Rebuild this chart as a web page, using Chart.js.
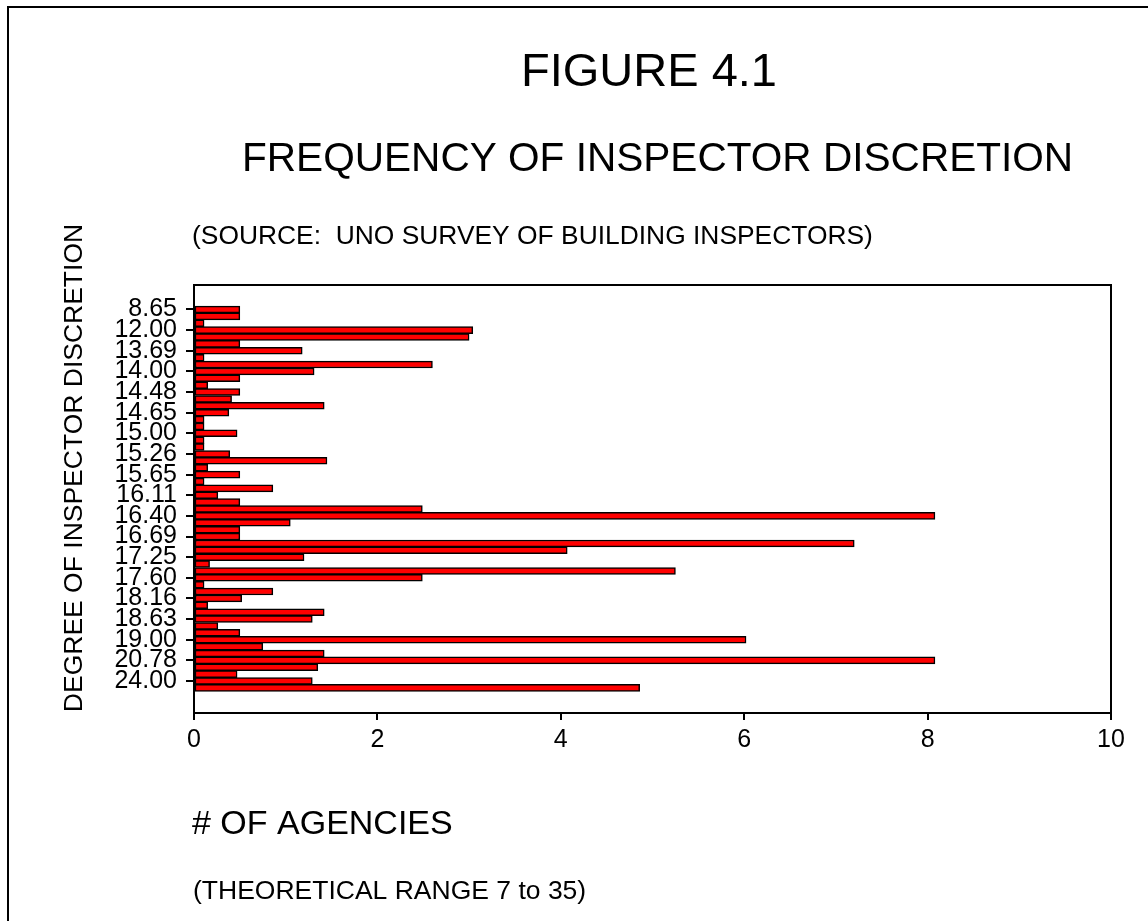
<!DOCTYPE html>
<html>
<head>
<meta charset="utf-8">
<script src="https://cdn.jsdelivr.net/npm/chart.js@4.4.1/dist/chart.umd.min.js"></script>
<style>
html,body{margin:0;padding:0;background:#fff;overflow:hidden}
#wrap{position:relative;width:1148px;height:921px}
canvas{display:block}
</style>
</head>
<body>
<div id="wrap"><canvas id="c" width="1148" height="921"></canvas></div>
<script>
// Degree of inspector discretion (category, top to bottom)
const categories = [
  "8.65","10.00","11.00","12.00","12.67","13.00","13.69","13.82","13.88","14.00",
  "14.13","14.33","14.48","14.50","14.60","14.65","14.78","14.88","15.00","15.06",
  "15.13","15.26","15.40","15.52","15.65","15.77","16.00","16.11","16.20","16.30",
  "16.40","16.50","16.60","16.69","16.80","17.00","17.25","17.33","17.40","17.60",
  "17.73","18.00","18.16","18.25","18.40","18.63","18.75","18.88","19.00","19.50",
  "20.00","20.78","21.00","22.00","24.00","25.00"
];
// # of agencies per category
const agencies = [
  0.50,0.50,0.11,3.04,3.00,0.50,1.18,0.11,2.60,1.31,
  0.50,0.15,0.50,0.41,1.42,0.38,0.11,0.11,0.47,0.11,
  0.11,0.39,1.45,0.15,0.50,0.11,0.86,0.26,0.50,2.49,
  8.08,1.05,0.50,0.50,7.20,4.07,1.20,0.17,5.25,2.49,
  0.11,0.86,0.52,0.15,1.42,1.29,0.26,0.50,6.02,0.75,
  1.42,8.08,1.35,0.47,1.29,4.86
];
const xTickValues = [0,2,4,6,8,10];
const labelEvery = 3;

const FONT = 'Arial, "Liberation Sans", Helvetica, sans-serif';

const textPlugin = {
  id: 'texts',
  afterDraw(chart) {
    const ctx = chart.ctx;
    function txt(str, x, y, size, align) {
      ctx.save();
      ctx.font = size + 'px ' + FONT;
      ctx.textAlign = align;
      ctx.textBaseline = 'alphabetic';
      ctx.fillStyle = '#000';
      ctx.fillText(str, x, y);
      ctx.restore();
    }
    txt('FIGURE 4.1', 649, 86, 47, 'center');
    txt('FREQUENCY OF INSPECTOR DISCRETION', 242, 171, 40.6, 'left');
    txt('(SOURCE:  UNO SURVEY OF BUILDING INSPECTORS)', 192, 244, 26.4, 'left');
    txt('# OF AGENCIES', 192, 834, 34, 'left');
    txt('(THEORETICAL RANGE 7 to 35)', 193, 899, 26.5, 'left');
    // rotated y-axis title
    ctx.save();
    ctx.translate(82, 468);
    ctx.rotate(-Math.PI / 2);
    ctx.font = '26.5px ' + FONT;
    ctx.textAlign = 'center';
    ctx.textBaseline = 'alphabetic';
    ctx.fillStyle = '#000';
    ctx.fillText('DEGREE OF INSPECTOR DISCRETION', 0, 0);
    ctx.restore();
    // outer page frame (top + left visible)
    ctx.save();
    ctx.strokeStyle = '#000';
    ctx.lineWidth = 2;
    ctx.beginPath();
    ctx.moveTo(8, 930);
    ctx.lineTo(8, 7);
    ctx.lineTo(1160, 7);
    ctx.stroke();
    // plot frame
    const a = chart.chartArea;
    ctx.strokeRect(a.left, a.top, a.right - a.left, a.bottom - a.top);
    ctx.restore();
  }
};

new Chart(document.getElementById('c'), {
  type: 'bar',
  data: {
    datasets: [{
      data: agencies.map((v, i) => ({ x: v, y: i })),
      backgroundColor: '#ff0000',
      borderColor: '#000000',
      borderWidth: 1.5,
      borderSkipped: false,
      barPercentage: 1,
      categoryPercentage: 1
    }]
  },
  options: {
    indexAxis: 'y',
    responsive: false,
    animation: false,
    devicePixelRatio: 1,
    layout: { padding: { left: 0, top: 285, right: 37, bottom: 0 } },
    plugins: { legend: { display: false }, tooltip: { enabled: false }, title: { display: false } },
    scales: {
      x: {
        type: 'linear',
        position: 'bottom',
        min: 0, max: 10,
        afterBuildTicks: s => { s.ticks = xTickValues.map(v => ({ value: v })); },
        ticks: { color: '#000', font: { family: FONT, size: 25 }, padding: 5, maxRotation: 0 },
        grid: { drawOnChartArea: false, drawTicks: true, tickLength: 7, color: '#000', lineWidth: 2 },
        border: { display: true, color: '#000', width: 2 },
        afterFit: s => { s.height = 921 - 713; }
      },
      y: {
        type: 'linear',
        position: 'left',
        reverse: true,
        offset: false,
        min: -3.56, max: 58.65,
        afterBuildTicks: s => {
          s.ticks = categories.map((c, i) => i).filter(i => i % labelEvery === 0).map(v => ({ value: v }));
        },
        ticks: { color: '#000', font: { family: FONT, size: 25 }, padding: 9, autoSkip: false,
                 callback: v => categories[v] },
        grid: { offset: false, drawOnChartArea: false, drawTicks: true, tickLength: 8, color: '#000', lineWidth: 2 },
        border: { display: true, color: '#000', width: 2 },
        afterFit: s => { s.width = 194; }
      }
    }
  },
  plugins: [textPlugin]
});
</script>
</body>
</html>
